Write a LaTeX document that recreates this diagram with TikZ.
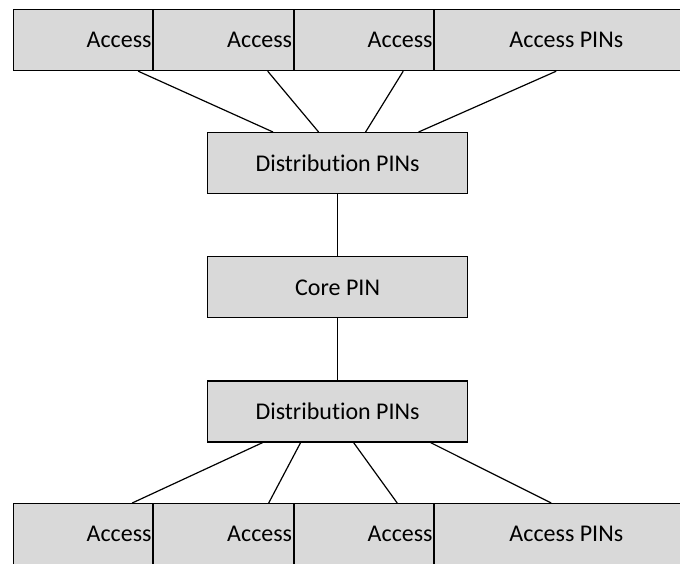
\documentclass[tikz,border=0pt]{standalone}
\usepackage{fontspec}
\setmainfont{Carlito}[Ligatures=NoCommon]
\usetikzlibrary{positioning}

\definecolor{pinfill}{HTML}{D9D9D9}

\begin{document}
\begin{tikzpicture}[x=0.5pt,y=-0.5pt,
        pin/.style={draw=black, fill=pinfill, line width=0.6pt, minimum height=30.5pt,
            inner sep=0pt, font=\fontsize{12}{14}\selectfont},
        access/.style={pin, text width=68.65pt, align=right, inner xsep=0.5pt},
        link/.style={line width=0.6pt}]
        \useasboundingbox (0,0) rectangle (680,563);
        \clip (0,0) rectangle (680,563);

        % top row of access pins
        \node[access, anchor=north west] (ta1) at (12.7,9) {Access};
        \node[access, right=0pt of ta1] (ta2) {Access};
        \node[access, right=0pt of ta2] (ta3) {Access};
        \node[pin, minimum width=131.5pt, right=0pt of ta3] (ta4) {Access PINs};

        % middle column
        \node[pin, minimum width=130pt, anchor=north west] (tdist) at (207,132) {Distribution PINs};
        \node[pin, minimum width=130pt, below=31pt of tdist] (core) {Core PIN};
        \node[pin, minimum width=130pt, below=31pt of core] (bdist) {Distribution PINs};

        % bottom row of access pins
        \node[access, anchor=north west] (ba1) at (12.7,503) {Access};
        \node[access, right=0pt of ba1] (ba2) {Access};
        \node[access, right=0pt of ba2] (ba3) {Access};
        \node[pin, minimum width=131.5pt, right=0pt of ba3] (ba4) {Access PINs};

        \draw[link] ([xshift=-7.5pt]ta1.south east) -- ([xshift=33pt]tdist.north west);
        \draw[link] ([xshift=-13pt]ta2.south east) -- ([xshift=-9.5pt]tdist.north);
        \draw[link] ([xshift=-15.5pt]ta3.south east) -- ([xshift=14pt]tdist.north);
        \draw[link] ([xshift=61pt]ta4.south west) -- ([xshift=40.5pt]tdist.north);

        \draw[link] (tdist) -- (core);
        \draw[link] (core) -- (bdist);

        \draw[link] ([xshift=-37.5pt]bdist.south) -- ([xshift=-10.5pt]ba1.north east);
        \draw[link] ([xshift=-18.5pt]bdist.south) -- ([xshift=-12.5pt]ba2.north east);
        \draw[link] ([xshift=8pt]bdist.south) -- ([xshift=-18.5pt]ba3.north east);
        \draw[link] ([xshift=46.5pt]bdist.south) -- ([xshift=58.5pt]ba4.north west);
    \end{tikzpicture}
\end{document}
